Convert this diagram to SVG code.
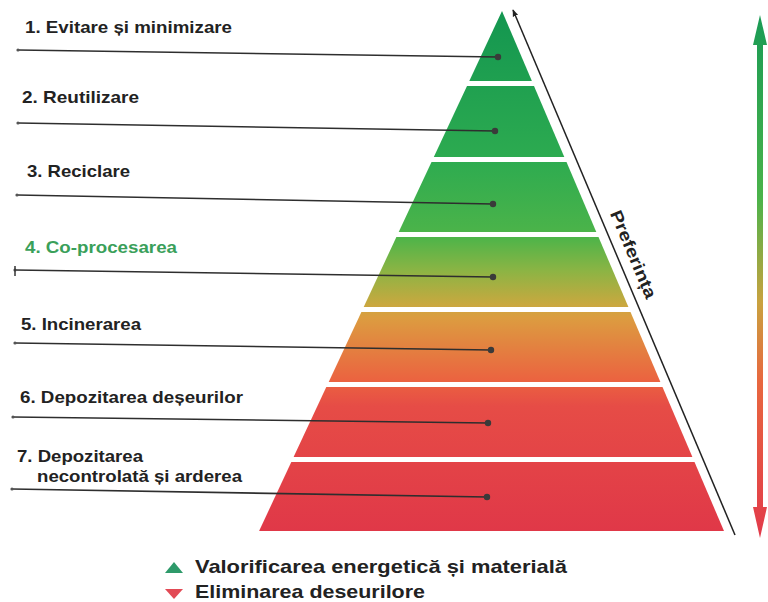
<svg xmlns="http://www.w3.org/2000/svg" width="768" height="602" viewBox="0 0 768 602">
<defs>
<linearGradient id="pyr" gradientUnits="userSpaceOnUse" x1="0" y1="11" x2="0" y2="531">
<stop offset="0" stop-color="#139650"/>
<stop offset="0.287" stop-color="#2dab50"/>
<stop offset="0.435" stop-color="#4db449"/>
<stop offset="0.5" stop-color="#8cb444"/>
<stop offset="0.565" stop-color="#c9a83f"/>
<stop offset="0.59" stop-color="#dc9c40"/>
<stop offset="0.71" stop-color="#eb6340"/>
<stop offset="0.76" stop-color="#e64c46"/>
<stop offset="1" stop-color="#e03848"/>
</linearGradient>
<linearGradient id="side" gradientUnits="userSpaceOnUse" x1="0" y1="15" x2="0" y2="538">
<stop offset="0" stop-color="#1a9b55"/>
<stop offset="0.35" stop-color="#4bb34a"/>
<stop offset="0.55" stop-color="#c9a23f"/>
<stop offset="0.7" stop-color="#e8673f"/>
<stop offset="1" stop-color="#e23a4a"/>
</linearGradient>
<marker id="up" viewBox="0 0 10 10" refX="9" refY="5" markerWidth="7" markerHeight="7" orient="auto" markerUnits="userSpaceOnUse">
<path d="M0,1 L10,5 L0,9 z" fill="#222"/>
</marker>
<marker id="dot" viewBox="0 0 10 10" refX="5" refY="5" markerWidth="8" markerHeight="8" markerUnits="userSpaceOnUse">
<circle cx="5" cy="5" r="4" fill="#3a3a3a"/>
</marker>
<marker id="tick" viewBox="0 0 10 10" refX="5" refY="5" markerWidth="4" markerHeight="4" markerUnits="userSpaceOnUse">
<circle cx="5" cy="5" r="4" fill="#555"/>
</marker>
</defs>
<style>
.band{fill:url(#pyr)}
.lbl{font-family:"Liberation Sans",Arial,sans-serif;font-weight:bold;font-size:17px;fill:#222}
.lead{stroke:#2e2e2e;stroke-width:1.6;fill:none;marker-end:url(#dot);marker-start:url(#tick)}
.leg{font-family:"Liberation Sans",Arial,sans-serif;font-weight:bold;font-size:19px;fill:#222}
</style>

<g id="band1"><polygon class="band" points="502,11 531.9,81 469.3,81"/></g>
<g id="band2"><polygon class="band" points="467,86 534,86 564.3,157 433.8,157"/></g>
<g id="band3"><polygon class="band" points="431.5,162 566.5,162 596.3,232 398.7,232"/></g>
<g id="band4"><polygon class="band" points="396.4,237 598.5,237 628.4,307 363.7,307"/></g>
<g id="band5"><polygon class="band" points="361.4,312 630.5,312 660.4,382 328.7,382"/></g>
<g id="band6"><polygon class="band" points="326.3,387 662.5,387 692.4,457 293.6,457"/></g>
<g id="band7"><polygon class="band" points="291.3,462 694.5,462 724,531 259.1,531"/></g>

<g id="label1"><text class="lbl" x="25" y="33" textLength="207" lengthAdjust="spacingAndGlyphs">1. Evitare și minimizare</text></g>
<g id="label2"><text class="lbl" x="22" y="103" textLength="117" lengthAdjust="spacingAndGlyphs">2. Reutilizare</text></g>
<g id="label3"><text class="lbl" x="27" y="177" textLength="103" lengthAdjust="spacingAndGlyphs">3. Reciclare</text></g>
<g id="label4"><text class="lbl" x="25" y="253" textLength="152" lengthAdjust="spacingAndGlyphs" style="fill:#3aa05a">4. Co-procesarea</text></g>
<g id="label5"><text class="lbl" x="21" y="330" textLength="120" lengthAdjust="spacingAndGlyphs">5. Incinerarea</text></g>
<g id="label6"><text class="lbl" x="20" y="403" textLength="223" lengthAdjust="spacingAndGlyphs">6. Depozitarea deșeurilor</text></g>
<g id="label7">
<text class="lbl" x="17" y="462" textLength="126" lengthAdjust="spacingAndGlyphs">7. Depozitarea</text>
<text class="lbl" x="37" y="482" textLength="205" lengthAdjust="spacingAndGlyphs">necontrolată și arderea</text>
</g>

<g id="connectors">
<line class="lead" x1="18" y1="50" x2="498" y2="57"/>
<line class="lead" x1="18" y1="123" x2="495" y2="131"/>
<line class="lead" x1="17" y1="195" x2="493" y2="204"/>
<line class="lead" x1="15" y1="270" x2="493" y2="277"/>
<line x1="15" y1="266" x2="15" y2="276" stroke="#333" stroke-width="1.5"/>
<line class="lead" x1="15" y1="343" x2="491" y2="350"/>
<line class="lead" x1="13" y1="417" x2="488" y2="423"/>
<line class="lead" x1="12" y1="489" x2="487" y2="497"/>
<line x1="735" y1="535" x2="513" y2="10" stroke="#222" stroke-width="1.5" marker-end="url(#up)"/>
</g>

<g id="preference">
<text transform="translate(628,256.5) rotate(67.1)" text-anchor="middle" font-family="'Liberation Sans',Arial,sans-serif" font-weight="bold" font-size="17" fill="#222" textLength="94" lengthAdjust="spacingAndGlyphs">Preferința</text>
</g>

<g id="side-arrow">
<polygon points="760,15 767,45 763,45 763,507 767,507 760,538 753,507 757,507 757,45 753,45" fill="url(#side)"/>
</g>

<g id="legend">
<polygon points="174,562 183,573 165,573" fill="#2e9a6a"/>
<text class="leg" x="195" y="573" textLength="372" lengthAdjust="spacingAndGlyphs">Valorificarea energetică și materială</text>
<polygon points="165,589 183,589 174,599" fill="#e24a55"/>
<text class="leg" x="195" y="598" textLength="230" lengthAdjust="spacingAndGlyphs">Eliminarea deseurilore</text>
</g>
</svg>
